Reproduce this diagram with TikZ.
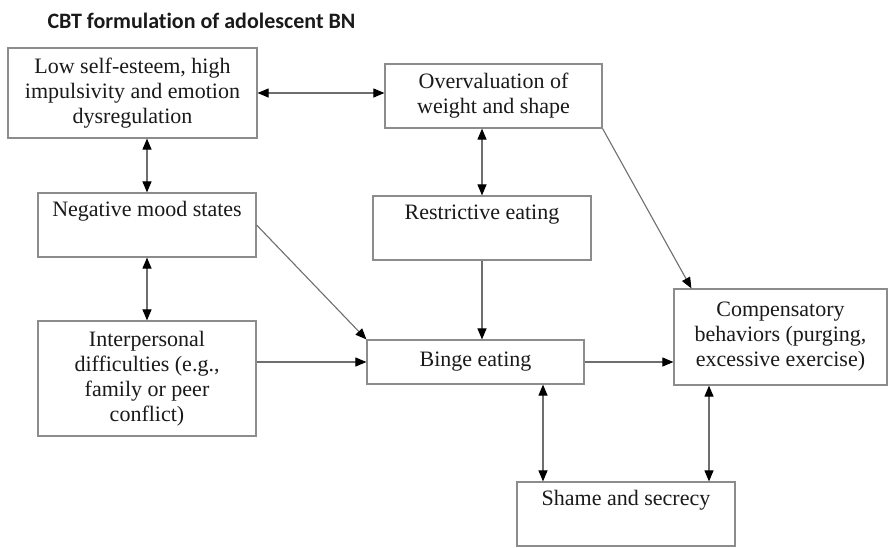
\documentclass[tikz,border=0pt]{standalone}
\usepackage{fontspec}
\setmainfont{Liberation Serif}
\newfontfamily\headfont{Carlito}[Ligatures=NoCommon]
\usetikzlibrary{arrows.meta}

\definecolor{framegray}{HTML}{8C8C8C}
\definecolor{linkgray}{HTML}{6E6E6E}
\definecolor{inkdark}{HTML}{1A1A1A}

\begin{document}
\begin{tikzpicture}[x=1pt,y=-1pt,
    >={Triangle[length=11pt,width=9pt,color=black]},
    stagebox/.style={draw=framegray, line width=1.2pt, fill=white, text=inkdark,
        minimum width=218pt, minimum height=64pt, inner sep=0pt, align=center,
        font=\fontsize{22}{25}\selectfont},
    link/.style={draw=linkgray, line width=1.1pt}]
        \useasboundingbox (0,0) rectangle (889,547);
        %title
        \node[anchor=west, text=inkdark, font=\headfont\bfseries\fontsize{22}{25}\selectfont] (title) at (44,21) {CBT formulation of adolescent BN};
        %boxes
        \node[stagebox, minimum width=249pt, minimum height=90pt] (lowse) at (132.5,93) {Low self-esteem, high\\ impulsivity and emotion\\ dysregulation};
        \node[stagebox, minimum width=217pt] (overval) at (493.5,96) {Overvaluation of\\ weight and shape};
        \node[stagebox] (mood) at (147,225) {Negative mood states\\ \strut};
        \node[stagebox] (restrict) at (482,228) {Restrictive eating\\ \strut};
        \node[stagebox, minimum height=115pt] (interp) at (147,378.5) {Interpersonal\\ difficulties (e.g.,\\ family or peer\\ conflict)};
        \node[stagebox, minimum width=217pt, minimum height=44pt] (binge) at (475.5,362) {Binge eating};
        \node[stagebox, minimum width=213pt, minimum height=96pt] (compens) at (780.5,337) {Compensatory\\ behaviors (purging,\\ excessive exercise)};
        \node[stagebox] (shame) at (626,514) {Shame and secrecy\\ \strut};
        %two-way links
        \draw[link, <->] (lowse.east) -- (lowse.east -| overval.west);
        \draw[link, <->] (mood.north) -- (mood.north |- lowse.south);
        \draw[link, <->] (mood.south) -- (interp.north);
        \draw[link, <->] (restrict.north) -- (restrict.north |- overval.south);
        \draw[link, <->] ([xshift=-83pt]shame.north) -- ([xshift=-83pt]shame.north |- binge.south);
        \draw[link, <->] ([xshift=83pt]shame.north) -- ([xshift=83pt]shame.north |- compens.south);
        %one-way links
        \draw[link, ->] (restrict.south) -- (restrict.south |- binge.north);
        \draw[link, ->] (mood.east) -- (binge.north west);
        \draw[link, ->] (interp.east |- binge.west) -- (binge.west);
        \draw[link, ->] (overval.south east) -- ([xshift=18pt]compens.north west);
        \draw[link, ->] (binge.east) -- (binge.east -| compens.west);
\end{tikzpicture}
\end{document}
